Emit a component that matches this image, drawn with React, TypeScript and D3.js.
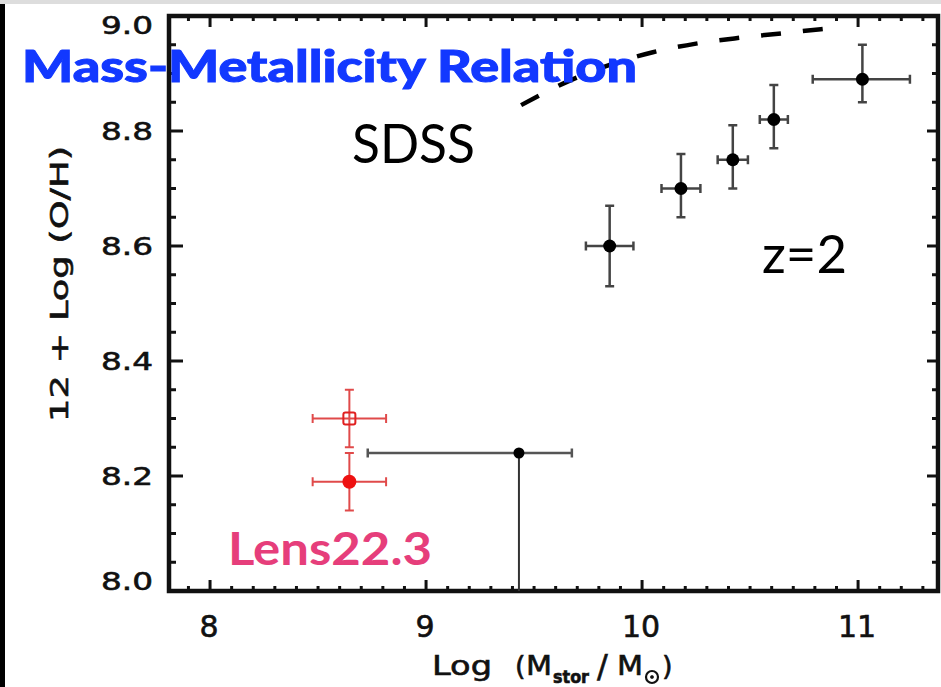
import React from "react";
import * as d3 from "d3";

const W = 941;
const H = 687;

// axis domains / ticks
const xDomain = [7.81, 11.37];
const yDomain = [8.0, 9.0];
const xMajorTicks = [8, 9, 10, 11];
const yMajorTicks = [8.0, 8.2, 8.4, 8.6, 8.8, 9.0];
const yTickLabels = ["8.0", "8.2", "8.4", "8.6", "8.8", "9.0"];

// z=2 stacked points
const z2Mass = [9.85, 10.18, 10.42, 10.61, 11.02];
const z2Metal = [8.6, 8.7, 8.75, 8.82, 8.89];
const z2MassErrLo = [0.11, 0.09, 0.07, 0.065, 0.23];
const z2MassErrHi = [0.11, 0.09, 0.07, 0.065, 0.22];
const z2MetalErrLo = [0.07, 0.05, 0.05, 0.05, 0.04];
const z2MetalErrHi = [0.07, 0.06, 0.06, 0.06, 0.06];

// low-mass point (upper limit style)
const lowMass = 9.43;
const lowMetal = 8.24;
const lowMassErrLo = 0.7;
const lowMassErrHi = 0.245;
const lowMetalMin = 8.0;

// Lens22.3
const lensMass = 8.645;
const lensMassErr = 0.17;
const lensMetal = [8.3, 8.19]; // open, filled
const lensMetalErr = [0.05, 0.05];

// SDSS relation (dashed)
const sdssMass = [9.44, 9.65, 9.85, 10.05, 10.25, 10.45, 10.65, 10.9];
const sdssMetal = [8.845, 8.885, 8.915, 8.937, 8.952, 8.962, 8.97, 8.98];

const x = d3.scaleLinear().domain(xDomain).range([169, 938]);
const y = d3.scaleLinear().domain(yDomain).range([591, 16]);

const xMinor = d3.range(79, 114).map((v) => v / 10).filter((v) => !xMajorTicks.includes(v));
const yMinor = d3.range(160, 181).map((v) => v / 20).filter((v) => Math.abs(v * 5 - Math.round(v * 5)) > 1e-6);

const AX = "#111";
const LBL = { fontFamily: "DejaVu Sans", fill: "#111", stroke: "#111", strokeWidth: 0.6 };

function ErrBar({ cx, cy, x0, x1, y0, y1, color, cap = 4.5, w = 2.5 }: any) {
  return (
    <g stroke={color} strokeWidth={w} fill="none">
      <line x1={x0} x2={x1} y1={cy} y2={cy} />
      <line x1={cx} x2={cx} y1={y0} y2={y1} />
      <line x1={x0} x2={x0} y1={cy - cap} y2={cy + cap} />
      <line x1={x1} x2={x1} y1={cy - cap} y2={cy + cap} />
      <line x1={cx - cap} x2={cx + cap} y1={y0} y2={y0} />
      <line x1={cx - cap} x2={cx + cap} y1={y1} y2={y1} />
    </g>
  );
}

export default function App() {
  const line = d3
    .line<number>()
    .x((_, i) => x(sdssMass[i]))
    .y((d) => y(d))
    .curve(d3.curveMonotoneX);

  const x0 = x.range()[0];
  const x1 = x.range()[1];
  const y0 = y.range()[0];
  const y1 = y.range()[1];

  return (
    <svg
      width={W}
      height={H}
      style={{ position: "absolute", left: 0, top: 0, background: "#fff" }}
    >
      <rect x={0} y={0} width={W} height={4} fill="#ddd" />
      <rect x={0} y={4} width={5} height={H - 4} fill="#000" />

      {/* frame */}
      <rect x={x0} y={y1} width={x1 - x0} height={y0 - y1} fill="none" stroke={AX} strokeWidth={4.5} />

      {/* x ticks bottom & top */}
      {xMajorTicks.map((t) => (
        <g key={"xm" + t} stroke={AX} strokeWidth={3}>
          <line x1={x(t)} x2={x(t)} y1={y0} y2={y0 - 11} />
          <line x1={x(t)} x2={x(t)} y1={y1} y2={y1 + 11} />
        </g>
      ))}
      {xMinor.map((t) => (
        <g key={"xn" + t} stroke={AX} strokeWidth={3}>
          <line x1={x(t)} x2={x(t)} y1={y0} y2={y0 - 5} />
          <line x1={x(t)} x2={x(t)} y1={y1} y2={y1 + 5} />
        </g>
      ))}
      {/* y ticks left & right */}
      {yMajorTicks.map((t) => (
        <g key={"ym" + t} stroke={AX} strokeWidth={3}>
          <line x1={x0} x2={x0 + 14} y1={y(t)} y2={y(t)} />
          <line x1={x1} x2={x1 - 11} y1={y(t)} y2={y(t)} />
        </g>
      ))}
      {yMinor.map((t) => (
        <g key={"yn" + t} stroke={AX} strokeWidth={3}>
          <line x1={x0} x2={x0 + 7} y1={y(t)} y2={y(t)} />
          <line x1={x1} x2={x1 - 6} y1={y(t)} y2={y(t)} />
        </g>
      ))}

      {/* tick labels */}
      {yMajorTicks.map((t, i) => (
        <text
          key={"yl" + t}
          x={153}
          y={Math.min(Math.max(y(t), 25), 581) + 9}
          textAnchor="end"
          fontSize={25}
          textLength={52}
          lengthAdjust="spacingAndGlyphs"
          {...LBL}
        >
          {yTickLabels[i]}
        </text>
      ))}
      {xMajorTicks.map((t) => (
        <text key={"xl" + t} x={x(t) - 1} y={637} textAnchor="middle" fontSize={30} {...LBL}>
          {String(t)}
        </text>
      ))}

      {/* axis titles */}
      <text
        transform={`translate(68,284) rotate(-90)`}
        textAnchor="middle"
        fontSize={25}
        textLength={276}
        lengthAdjust="spacingAndGlyphs"
        {...LBL}
      >
        12 + Log (O/H)
      </text>
      <g {...LBL}>
        <text x={432} y={675} fontSize={27} textLength={60} lengthAdjust="spacingAndGlyphs">Log</text>
        <text x={515} y={675} fontSize={27}>(</text>
        <text x={526} y={675} fontSize={27} textLength={26} lengthAdjust="spacingAndGlyphs">M</text>
        <text x={553} y={683} fontSize={17} fontWeight="bold" textLength={36} lengthAdjust="spacingAndGlyphs">stor</text>
        <text x={597} y={677} fontSize={32}>/</text>
        <text x={617} y={675} fontSize={27} textLength={26} lengthAdjust="spacingAndGlyphs">M</text>
        <circle cx={652} cy={677} r={6} fill="none" strokeWidth={2.2} />
        <circle cx={652} cy={677} r={1.6} fill="#111" />
        <text x={662} y={675} fontSize={27}>)</text>
      </g>

      {/* SDSS dashed relation */}
      <path
        d={line(sdssMetal) || ""}
        fill="none"
        stroke="#000"
        strokeWidth={4.5}
        strokeDasharray="20 22"
      />

      {/* low-mass black point */}
      <g>
        <line x1={x(lowMass - lowMassErrLo)} x2={x(lowMass + lowMassErrHi)} y1={y(lowMetal)} y2={y(lowMetal)} stroke="#555" strokeWidth={2.5} />
        <line x1={x(lowMass - lowMassErrLo)} x2={x(lowMass - lowMassErrLo)} y1={y(lowMetal) - 4.5} y2={y(lowMetal) + 4.5} stroke="#555" strokeWidth={2.5} />
        <line x1={x(lowMass + lowMassErrHi)} x2={x(lowMass + lowMassErrHi)} y1={y(lowMetal) - 4.5} y2={y(lowMetal) + 4.5} stroke="#555" strokeWidth={2.5} />
        <line x1={x(lowMass)} x2={x(lowMass)} y1={y(lowMetal)} y2={y(lowMetalMin)} stroke="#333" strokeWidth={2} />
        <circle cx={x(lowMass)} cy={y(lowMetal)} r={5.5} fill="#000" />
      </g>

      {/* z=2 points */}
      {z2Mass.map((m, i) => (
        <g key={"z" + i}>
          <ErrBar
            cx={x(m)}
            cy={y(z2Metal[i])}
            x0={x(m - z2MassErrLo[i])}
            x1={x(m + z2MassErrHi[i])}
            y0={y(z2Metal[i] + z2MetalErrHi[i])}
            y1={y(z2Metal[i] - z2MetalErrLo[i])}
            color="#444"
          />
          <circle cx={x(m)} cy={y(z2Metal[i])} r={6.5} fill="#000" />
        </g>
      ))}

      {/* Lens22.3 points */}
      {lensMetal.map((v, i) => (
        <g key={"l" + i}>
          <ErrBar
            cx={x(lensMass)}
            cy={y(v)}
            x0={x(lensMass - lensMassErr)}
            x1={x(lensMass + lensMassErr)}
            y0={y(v + lensMetalErr[i])}
            y1={y(v - lensMetalErr[i])}
            color="#e04a4a"
            w={2}
          />
          {i === 0 ? (
            <rect x={x(lensMass) - 6} y={y(v) - 6} width={12} height={12} rx={2} fill="none" stroke="#e02020" strokeWidth={2} />
          ) : (
            <circle cx={x(lensMass)} cy={y(v)} r={7} fill="#ee1010" />
          )}
        </g>
      ))}

      {/* annotations */}
      <text x={352} y={163} fontFamily="Lato" fontSize={54} fill="#000" textLength={123} lengthAdjust="spacingAndGlyphs">
        SDSS
      </text>
      <text x={762} y={273} fontFamily="Lato" fontSize={52} fill="#000" textLength={85} lengthAdjust="spacingAndGlyphs">
        z=2
      </text>
      <text x={228} y={565} fontFamily="Lato" fontWeight="bold" fontSize={45} fill="#e63e7b" textLength={204} lengthAdjust="spacingAndGlyphs">
        Lens22.3
      </text>
      <text x={22} y={82} fontFamily="Lato" fontWeight="900" fontSize={44} fill="#1238ff" stroke="#1238ff" strokeWidth={1} textLength={615} lengthAdjust="spacingAndGlyphs">
        Mass-Metallicity Relation
      </text>
    </svg>
  );
}
